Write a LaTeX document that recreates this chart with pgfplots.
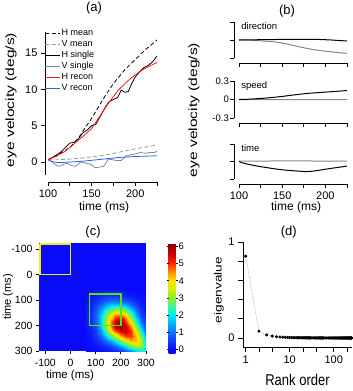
\documentclass[border=0pt]{standalone}
\usepackage{fontspec}
\setmainfont{Liberation Sans}
\setsansfont{Liberation Sans}
\usepackage{graphicx}
\usepackage{pgfplots}
\pgfplotsset{compat=1.18}
\definecolor{vgray}{RGB}{150,150,150}
\definecolor{sgray}{RGB}{135,135,135}
\definecolor{hred}{RGB}{255,20,20}
\definecolor{vblue}{RGB}{50,90,255}
\definecolor{cmzero}{RGB}{10,10,250}
\definecolor{boxyellow}{RGB}{240,240,0}
\definecolor{boxgreen}{RGB}{95,225,0}
\pgfplotsset{
  every axis title shift=0pt,
  every axis/.append style={
    scale only axis,
    tick align=outside,
    major tick length=4pt,
    /pgf/number format/assume math mode=true,
    tick label style={font=\fontsize{11}{12}\selectfont},
    label style={font=\fontsize{12}{13}\selectfont},
    title style={font=\fontsize{13}{14}\selectfont},
    axis line style={line width=0.8pt},
    every tick/.append style={line width=0.8pt, black},
  },
}
\newcommand{\xl}[1]{\scalebox{1}[1.2]{#1}}
\newcommand{\yl}[1]{\scalebox{1.3}[1]{#1}}
\begin{document}
\begin{tikzpicture}
\path[use as bounding box] (0,0) rectangle (353pt,-391pt);
% ---------------- (a)
\begin{axis}[
  at={(48pt,-175pt)}, anchor=south west, width=109pt, height=143pt,
  xmin=100, xmax=225, ymin=-1.8, ymax=17.9,
  axis x line*=bottom, axis y line*=left,
  axis x line shift=7pt, axis y line shift=3pt,
  xtick={100,125,...,225}, xticklabels={100,,150,,200,},
  ytick={0,5,10,15},
  xlabel={time (ms)}, ylabel={\yl{eye velocity (deg/s)}},
  xlabel style={at={(axis description cs:0.514,-0.224)}, anchor=center},
  ylabel style={at={(axis description cs:-0.339,0.524)}, anchor=center},
  title={(a)}, title style={at={(axis description cs:0.422,1.168)}, anchor=center},
  legend style={draw=none, fill=none, at={(axis description cs:-0.03,1.03)}, anchor=north west,
    font=\fontsize{9}{10}\selectfont, inner sep=0pt, row sep=0pt,
    nodes={inner sep=1pt, text height=7pt, text depth=2pt}},
  legend image code/.code={\draw[#1] (0pt,0pt) -- (15pt,0pt);},
  legend cell align=left,
]
\addplot[black, line width=0.8pt, dash pattern=on 4pt off 2.5pt] coordinates {
(100,0.3) (110,0.9) (120,1.6) (125,2.0) (130,2.6) (135,3.3) (142,4.6) (150,6.0) (158,7.6) (165,9.0) (175,10.8) (188,12.7) (200,14.1) (211,15.4) (218,16.1) (225,16.8)};
\addlegendentry{H mean}
\addplot[vgray, line width=0.8pt, dash pattern=on 4pt off 2.5pt] coordinates {
(100,0.3) (110,0.3) (120,0.35) (130,0.45) (140,0.55) (150,0.7) (160,0.85) (170,1.05) (180,1.3) (190,1.55) (200,1.8) (210,2.0) (218,2.2) (225,2.3)};
\addlegendentry{V mean}
\addplot[black, line width=0.8pt] coordinates {
(100,0.3) (105,0.6) (110,1.0) (115,1.4) (120,2.0) (125,2.6) (130,2.7) (135,3.2) (140,4.0) (145,4.4) (150,5.0) (155,5.2) (160,6.3) (165,7.4) (170,8.3) (175,8.6) (180,8.9) (184,9.9) (188,9.6) (192,9.7) (196,10.8) (200,11.7) (205,12.4) (210,13.0) (215,13.3) (220,13.8) (225,14.6)};
\addlegendentry{H single}
\addplot[sgray, line width=0.8pt] coordinates {
(100,0.3) (105,0.0) (110,-0.5) (113,-0.6) (118,-0.3) (122,-0.2) (127,-0.5) (131,-0.6) (135,-0.3) (137,0.0) (140,-0.1) (145,-0.2) (150,-0.4) (154,-0.8) (160,-0.7) (164,-0.6) (169,0.4) (174,0.3) (178,0.2) (184,0.2) (189,0.8) (195,1.0) (200,1.1) (205,1.3) (212,1.2) (217,1.3) (222,1.3) (225,1.5)};
\addlegendentry{V single}
\addplot[hred, line width=0.8pt] coordinates {
(100,0.3) (110,0.8) (120,1.5) (130,2.5) (140,3.5) (150,4.6) (160,6.4) (170,8.2) (180,9.8) (190,11.0) (200,12.0) (210,12.8) (218,13.3) (225,13.7)};
\addlegendentry{H recon}
\addplot[vblue, line width=0.8pt] coordinates {
(100,0.3) (105,0.05) (112,-0.1) (120,-0.05) (140,0.1) (160,0.35) (180,0.6) (200,0.75) (225,0.85)};
\addlegendentry{V recon}
\end{axis}
% ---------------- (b) direction
\begin{axis}[
  at={(239pt,-58pt)}, anchor=south west, width=108pt, height=36pt,
  xmin=100, xmax=225, ymin=-0.3, ymax=0.3,
  axis x line*=bottom, axis y line*=left,
  axis x line shift=5pt, axis y line shift=5pt,
  xtick={100,125,...,225}, xticklabels={},
  ytick={-0.3,0,0.3}, yticklabels={},
  title={(b)}, title style={at={(axis description cs:0.444,1.306)}, anchor=center},
]
\addplot[sgray, line width=1pt] coordinates {
(100,0) (115,-0.004) (128,-0.016) (140,-0.03) (148,-0.045) (157,-0.07) (167,-0.105) (177,-0.135) (186,-0.16) (196,-0.18) (205,-0.195) (215,-0.21) (225,-0.222)};
\addplot[black, line width=1pt] coordinates {
(100,0) (120,0.004) (140,0.008) (160,0.011) (175,0.012) (190,0.01) (205,0.002) (215,-0.008) (225,-0.016)};
\node[anchor=north west, inner sep=0pt, font=\fontsize{9.5}{10}\selectfont] at (axis description cs:0.02,1.0) {direction};
\end{axis}
% ---------------- (b) speed
\begin{axis}[
  at={(239pt,-118pt)}, anchor=south west, width=108pt, height=37pt,
  xmin=100, xmax=225, ymin=-0.3, ymax=0.3,
  axis x line*=bottom, axis y line*=left,
  axis x line shift=5pt, axis y line shift=5pt,
  xtick={100,125,...,225}, xticklabels={},
  ytick={-0.3,0,0.3}, yticklabels={-0.3,0,0.3},
  yticklabel style={font=\fontsize{9.5}{10}\selectfont, inner sep=1pt},
  ylabel={\yl{eye velocity (deg/s)}},
  ylabel style={at={(axis description cs:-0.417,0.216)}, anchor=center},
]
\addplot[sgray, line width=1pt] coordinates {(100,0) (160,-0.002) (225,-0.003)};
\addplot[black, line width=1pt] coordinates {
(100,0) (110,0.004) (120,0.012) (130,0.022) (140,0.035) (150,0.05) (160,0.068) (170,0.085) (180,0.1) (190,0.11) (200,0.12) (210,0.13) (225,0.145)};
\node[anchor=north west, inner sep=0pt, font=\fontsize{9.5}{10}\selectfont] at (axis description cs:0.02,1.0) {speed};
\end{axis}
% ---------------- (b) time
\begin{axis}[
  at={(239pt,-179pt)}, anchor=south west, width=108pt, height=35pt,
  xmin=100, xmax=225, ymin=-0.3, ymax=0.3,
  axis x line*=bottom, axis y line*=left,
  axis x line shift=5pt, axis y line shift=5pt,
  xtick={100,125,...,225}, xticklabels={100,,150,,200,},
  ytick={-0.3,0,0.3}, yticklabels={},
  xlabel={time (ms)},
  xlabel style={at={(axis description cs:0.528,-0.8)}, anchor=center},
]
\addplot[sgray, line width=1pt] coordinates {(100,0.005) (150,0.01) (200,0.008) (225,0.008)};
\addplot[black, line width=1pt] coordinates {
(100,0) (103,-0.02) (109,-0.042) (118,-0.07) (128,-0.095) (138,-0.118) (147,-0.137) (157,-0.152) (167,-0.163) (178,-0.174) (186,-0.165) (195,-0.145) (205,-0.121) (215,-0.1) (225,-0.079)};
\node[anchor=north west, inner sep=0pt, font=\fontsize{9.5}{10}\selectfont] at (axis description cs:0.02,1.0) {time};
\end{axis}
% ---------------- (c)
\begin{axis}[
  at={(39pt,-351pt)}, anchor=south west, width=107pt, height=108pt,
  xmin=-125, xmax=300, ymin=-125, ymax=300, y dir=reverse,
  axis background/.style={fill=cmzero},
  axis line style={draw=none},
  xtick={-100,0,...,300}, ytick={-100,0,...,300},
  xtick pos=left, ytick pos=left,
  major tick length=3pt,
  tick label style={font=\fontsize{10.5}{11}\selectfont},
  xticklabel style={yshift=-2pt},
  xlabel={time (ms)}, ylabel={time (ms)},
  xlabel style={font=\fontsize{11.5}{12}\selectfont, at={(axis description cs:0.29,-0.225)}, anchor=center},
  ylabel style={font=\fontsize{11}{12}\selectfont, at={(axis description cs:-0.29,0.5)}, anchor=center},
  title={(c)}, title style={at={(axis description cs:0.505,1.10)}, anchor=center},
  colormap={igor}{rgb255(0)=(10,10,250) rgb255(2)=(10,10,250) rgb255(12)=(20,110,255) rgb255(17)=(0,175,255) rgb255(22)=(0,235,245) rgb255(27)=(60,245,160) rgb255(32)=(140,235,40) rgb255(37)=(210,240,0) rgb255(42)=(255,225,0) rgb255(47)=(255,145,0) rgb255(52)=(255,45,0) rgb255(57)=(215,0,0) rgb255(64)=(140,0,0)},
  point meta min=-0.2, point meta max=6.2,
  colorbar,
  colorbar style={at={(parent axis.north east)}, anchor=north west, xshift=14pt,
    width=7pt, height=110pt, scale only axis, y dir=normal,
    axis line style={draw=none}, ytick={0,1,2,3,4,5,6}, major tick length=2pt,
    yticklabel style={font=\fontsize{9.5}{10}\selectfont, inner sep=1pt}},
]
\addplot[surf, shader=interp, mesh/cols=13, point meta=explicit] table[x=x, y=y, meta=z] {
x y z
60 60 0.03
80 60 0.05
100 60 0.08
120 60 0.12
140 60 0.14
160 60 0.15
180 60 0.13
200 60 0.09
220 60 0.06
240 60 0.03
260 60 0.02
280 60 0.01
300 60 0

60 80 0.05
80 80 0.10
100 80 0.19
120 80 0.28
140 80 0.36
160 80 0.40
180 80 0.36
200 80 0.29
220 80 0.19
240 80 0.14
260 80 0.09
280 80 0.04
300 80 0.02

60 100 0.08
80 100 0.19
100 100 0.35
120 100 0.57
140 100 0.80
160 100 0.90
180 100 0.89
200 100 0.73
220 100 0.61
240 100 0.43
260 100 0.24
280 100 0.11
300 100 0.04

60 120 0.12
80 120 0.28
100 120 0.57
120 120 1.00
140 120 1.42
160 120 1.75
180 120 1.80
200 120 1.71
220 120 1.40
240 120 0.95
260 120 0.54
280 120 0.22
300 120 0.06

60 140 0.14
80 140 0.36
100 140 0.80
120 140 1.42
140 140 2.20
160 140 2.84
180 140 3.17
200 140 3.08
220 140 2.54
240 140 1.78
260 140 0.94
280 140 0.37
300 140 0.10

60 160 0.15
80 160 0.40
100 160 0.90
120 160 1.75
140 160 2.84
160 160 3.90
180 160 4.57
200 160 4.60
220 160 3.91
240 160 2.63
260 160 1.43
280 160 0.60
300 160 0.19

60 180 0.13
80 180 0.36
100 180 0.89
120 180 1.80
140 180 3.17
160 180 4.57
180 180 5.70
200 180 6.00
220 180 4.88
240 180 3.53
260 180 2.11
280 180 0.95
300 180 0.31

60 200 0.09
80 200 0.29
100 200 0.73
120 200 1.71
140 200 3.08
160 200 4.60
180 200 6.00
200 200 6.20
220 200 5.55
240 200 4.45
260 200 2.89
280 200 1.45
300 200 0.47

60 220 0.06
80 220 0.19
100 220 0.61
120 220 1.40
140 220 2.54
160 220 3.91
180 220 4.88
200 220 5.55
220 220 5.70
240 220 5.02
260 220 3.67
280 220 2.07
300 220 0.82

60 240 0.03
80 240 0.14
100 240 0.43
120 240 0.95
140 240 1.78
160 240 2.63
180 240 3.53
200 240 4.45
220 240 5.02
240 240 5.00
260 240 4.30
280 240 2.85
300 240 1.21

60 260 0.02
80 260 0.09
100 260 0.24
120 260 0.54
140 260 0.94
160 260 1.43
180 260 2.11
200 260 2.89
220 260 3.67
240 260 4.30
260 260 4.30
280 260 3.36
300 260 1.77

60 280 0.01
80 280 0.04
100 280 0.11
120 280 0.22
140 280 0.37
160 280 0.60
180 280 0.95
200 280 1.45
220 280 2.07
240 280 2.85
260 280 3.36
280 280 3.20
300 280 2.15

60 300 0
80 300 0.02
100 300 0.04
120 300 0.06
140 300 0.10
160 300 0.19
180 300 0.31
200 300 0.47
220 300 0.82
240 300 1.21
260 300 1.77
280 300 2.15
300 300 2.00
};
\addplot[draw=boxyellow, line width=1.4pt, line join=miter, mark=none, forget plot] coordinates {(-121,-121) (0,-121) (0,0) (-121,0) (-121,-121)};
\addplot[draw=boxgreen, line width=1.4pt, line join=miter, mark=none, forget plot] coordinates {(75,75) (200,75) (200,200) (75,200) (75,75)};
\end{axis}
% ---------------- (d)
\begin{axis}[
  at={(243pt,-347pt)}, anchor=south west, width=109pt, height=105pt,
  xmode=log, xmin=0.87, xmax=260, ymin=-0.094, ymax=1,
  axis x line*=bottom, axis y line*=left,
  xtick={1,2,4,10,20,40,100,200}, xticklabels={1,,,10,,,100,},
  minor xtick={},
  ytick={0,0.2,0.4,0.6,0.8,1}, yticklabels={0,,,,,1},
  major tick length=5pt,
  xlabel={\xl{Rank order}}, ylabel={\yl{eigenvalue}},
  xlabel style={font=\fontsize{13}{14}\selectfont, at={(axis description cs:0.5,-0.314)}, anchor=center},
  ylabel style={font=\fontsize{10.5}{11}\selectfont, at={(axis description cs:-0.22,0.543)}, anchor=center},
  title={(d)}, title style={at={(axis description cs:0.42,1.095)}, anchor=center},
]
\addplot[gray, densely dotted, line width=0.5pt, mark=*, mark size=1.3pt, mark options={solid, black, fill=black}] coordinates {
(1,0.852) (2,0.071) (3,0.032) (4,0.020) (5,0.013) (6,0.010) (7,0.008) (8,0.0065) (9,0.0055) (10,0.0048)
(11,0.0042) (12,0.0038) (13,0.0034) (14,0.0031) (15,0.0028) (16,0.0026) (17,0.0024) (18,0.0022) (19,0.0020) (20,0.0019)
(21,0.0018) (22,0.0017) (23,0.0016) (24,0.0015) (25,0.0014) (26,0.0013) (27,0.0013) (28,0.0012) (29,0.0011) (30,0.0011)
(32,0.0010) (34,0.0010) (36,0.0009) (38,0.0009) (40,0.0008) (42,0.0008) (44,0.0007) (46,0.0007) (48,0.0007) (50,0.0006)
(52,0.0006) (54,0.0006) (56,0.0005) (58,0.0005) (60,0.0005)
(65,0.0005) (70,0.0004) (75,0.0004) (80,0.0004) (85,0.0004) (90,0.0003) (95,0.0003) (100,0.0003) (105,0.0003) (110,0.0003)
(115,0.0003) (120,0.0002) (125,0.0002) (130,0.0002) (135,0.0002) (140,0.0002) (145,0.0002) (150,0.0002) (155,0.0002) (160,0.0002)
(165,0.0001) (170,0.0001) (175,0.0001) (180,0.0001) (185,0.0001) (190,0.0001) (195,0.0001) (200,0.0001) (205,0.0001) (210,0.0001)
(215,0.0001) (220,0.0001) (225,0.0001) (230,0.0001) (235,0.0001) (240,0.0001) (245,0.0001) (250,0.0001) (255,0.0001)};
\end{axis}
\end{tikzpicture}
\end{document}
